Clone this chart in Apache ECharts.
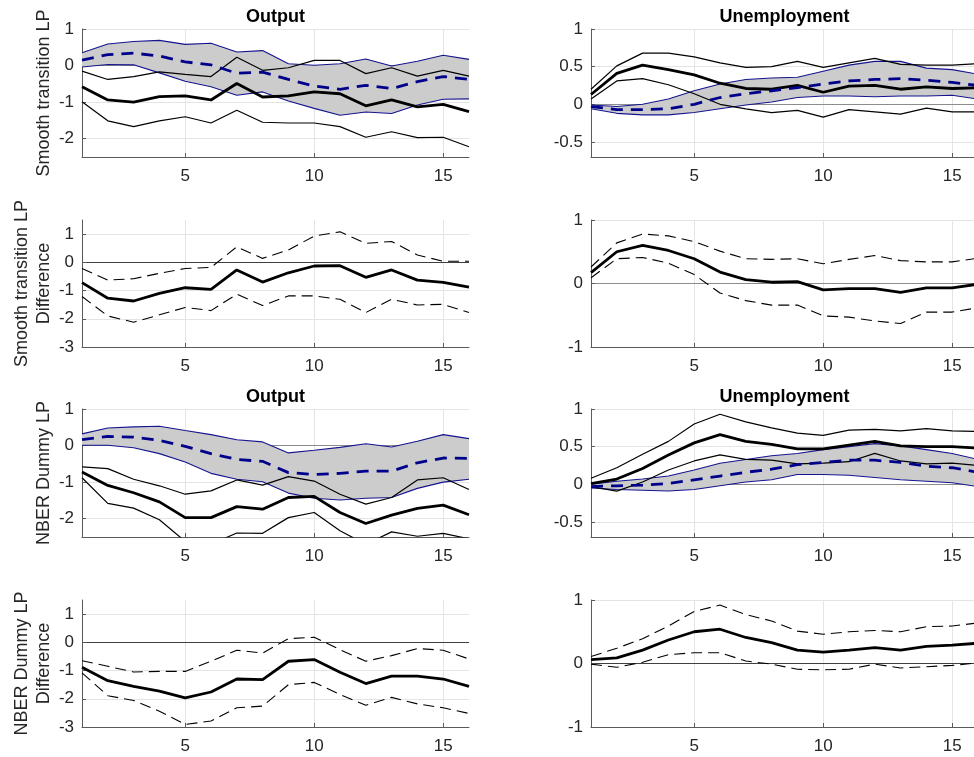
<!DOCTYPE html>
<html>
<head>
<meta charset="utf-8">
<script src="https://cdn.jsdelivr.net/npm/echarts@6/dist/echarts.min.js"></script>
<style>html,body{margin:0;padding:0;background:#fff;}#c{width:974px;height:757px;}</style>
</head>
<body>
<div id="c"></div>
<script>
// ---------------- DATA ----------------
const horizons = [1,2,3,4,5,6,7,8,9,10,11,12,13,14,15,16];
const xTicks = [5,10,15];
const titles = ['Output','Unemployment'];
const rowLabels = ['Smooth transition LP','Smooth transition LP\nDifference','NBER Dummy LP','NBER Dummy LP\nDifference'];

// Row 1 left: smooth transition LP, output
const st_out_linUp  = [0.35,0.59,0.66,0.69,0.58,0.61,0.37,0.41,0.05,0.01,0.05,0.18,-0.01,0.12,0.28,0.17];
const st_out_linLo  = [-0.04,0.03,0.02,-0.2,-0.43,-0.58,-0.81,-0.72,-0.97,-1.17,-1.36,-1.27,-1.31,-1.08,-0.92,-0.91];
const st_out_linMid = [0.15,0.3,0.34,0.26,0.1,0.02,-0.21,-0.18,-0.38,-0.56,-0.65,-0.54,-0.63,-0.44,-0.3,-0.38];
const st_out_recMid = [-0.58,-0.94,-1.0,-0.85,-0.83,-0.94,-0.49,-0.86,-0.83,-0.72,-0.77,-1.1,-0.94,-1.13,-1.06,-1.26];
const st_out_recUp  = [-0.15,-0.38,-0.3,-0.17,-0.24,-0.3,0.23,-0.13,-0.06,0.14,0.14,-0.22,-0.06,-0.29,-0.13,-0.29];
const st_out_recLo  = [-0.99,-1.51,-1.67,-1.51,-1.4,-1.57,-1.22,-1.55,-1.57,-1.57,-1.67,-1.96,-1.81,-1.97,-1.96,-2.22];

// Row 1 right: smooth transition LP, unemployment
const st_un_linUp  = [-0.01,-0.03,0.0,0.07,0.18,0.27,0.33,0.35,0.36,0.44,0.52,0.57,0.57,0.48,0.46,0.4];
const st_un_linLo  = [-0.06,-0.12,-0.14,-0.14,-0.11,-0.06,-0.01,0.03,0.09,0.11,0.11,0.1,0.11,0.11,0.12,0.07];
const st_un_linMid = [-0.03,-0.07,-0.07,-0.06,0.0,0.09,0.14,0.18,0.22,0.27,0.31,0.33,0.34,0.32,0.29,0.25];
const st_un_recMid = [0.13,0.41,0.52,0.46,0.39,0.28,0.21,0.2,0.25,0.16,0.24,0.25,0.2,0.23,0.21,0.22];
const st_un_recUp  = [0.2,0.51,0.68,0.68,0.63,0.55,0.49,0.5,0.57,0.49,0.55,0.61,0.53,0.52,0.52,0.54];
const st_un_recLo  = [0.07,0.31,0.34,0.26,0.14,0.0,-0.06,-0.11,-0.08,-0.17,-0.07,-0.1,-0.13,-0.05,-0.1,-0.1];

// Row 2: smooth transition LP, difference
const st_out_diffMid = [-0.72,-1.27,-1.37,-1.1,-0.9,-0.96,-0.27,-0.7,-0.37,-0.13,-0.12,-0.53,-0.27,-0.63,-0.71,-0.88];
const st_out_diffUp  = [-0.22,-0.63,-0.58,-0.39,-0.22,-0.18,0.55,0.14,0.44,0.93,1.08,0.67,0.74,0.26,0.04,0.04];
const st_out_diffLo  = [-1.21,-1.9,-2.12,-1.86,-1.6,-1.71,-1.13,-1.53,-1.19,-1.19,-1.31,-1.78,-1.31,-1.51,-1.49,-1.78];
const st_un_diffMid  = [0.17,0.5,0.6,0.52,0.39,0.18,0.06,0.02,0.03,-0.1,-0.08,-0.08,-0.14,-0.07,-0.07,-0.01];
const st_un_diffUp   = [0.26,0.64,0.78,0.75,0.66,0.51,0.39,0.38,0.39,0.31,0.38,0.44,0.36,0.34,0.34,0.4];
const st_un_diffLo   = [0.09,0.39,0.41,0.32,0.14,-0.15,-0.27,-0.34,-0.34,-0.51,-0.53,-0.59,-0.63,-0.45,-0.45,-0.38];

// Row 3 left: NBER dummy LP, output
const nb_out_linUp  = [0.32,0.48,0.51,0.53,0.41,0.3,0.16,0.1,-0.2,-0.13,-0.05,0.05,-0.04,0.12,0.3,0.19];
const nb_out_linLo  = [0.01,0.01,-0.06,-0.22,-0.45,-0.76,-0.92,-0.99,-1.3,-1.44,-1.49,-1.44,-1.42,-1.17,-1.0,-0.92];
const nb_out_linMid = [0.16,0.25,0.23,0.14,-0.02,-0.22,-0.38,-0.43,-0.74,-0.79,-0.76,-0.7,-0.7,-0.47,-0.34,-0.35];
const nb_out_recMid = [-0.72,-1.09,-1.29,-1.54,-1.97,-1.97,-1.67,-1.74,-1.42,-1.39,-1.83,-2.13,-1.9,-1.72,-1.63,-1.89];
const nb_out_recUp  = [-0.58,-0.63,-0.92,-1.1,-1.33,-1.24,-0.94,-1.08,-0.85,-0.97,-1.33,-1.6,-1.42,-0.94,-0.88,-1.2];
const nb_out_recLo  = [-0.88,-1.58,-1.71,-2.03,-2.62,-2.7,-2.39,-2.4,-1.97,-1.83,-2.33,-2.7,-2.36,-2.48,-2.4,-2.55];

// Row 3 right: NBER dummy LP, unemployment
const nb_un_linUp  = [0.0,0.04,0.07,0.11,0.19,0.28,0.33,0.38,0.41,0.46,0.5,0.54,0.51,0.46,0.41,0.33];
const nb_un_linLo  = [-0.05,-0.07,-0.08,-0.09,-0.07,-0.02,0.03,0.06,0.13,0.13,0.12,0.09,0.06,0.04,0.02,-0.03];
const nb_un_linMid = [-0.03,-0.02,-0.01,0.01,0.06,0.11,0.16,0.2,0.26,0.29,0.32,0.32,0.29,0.24,0.22,0.16];
const nb_un_recMid = [0.01,0.07,0.21,0.39,0.55,0.66,0.57,0.53,0.47,0.47,0.52,0.57,0.51,0.5,0.5,0.48];
const nb_un_recUp  = [0.08,0.22,0.4,0.57,0.8,0.93,0.83,0.75,0.68,0.65,0.72,0.73,0.71,0.74,0.71,0.7];
const nb_un_recLo  = [-0.03,-0.09,0.03,0.19,0.31,0.39,0.33,0.32,0.27,0.28,0.3,0.41,0.31,0.27,0.28,0.25];

// Row 4: NBER dummy LP, difference
const nb_out_diffMid = [-0.88,-1.36,-1.56,-1.73,-1.97,-1.76,-1.3,-1.32,-0.67,-0.61,-1.06,-1.46,-1.2,-1.2,-1.3,-1.56];
const nb_out_diffUp  = [-0.65,-0.85,-1.05,-1.03,-1.03,-0.67,-0.28,-0.38,0.13,0.18,-0.26,-0.67,-0.47,-0.22,-0.28,-0.59];
const nb_out_diffLo  = [-1.08,-1.89,-2.06,-2.44,-2.91,-2.79,-2.32,-2.26,-1.5,-1.42,-1.85,-2.23,-1.95,-2.18,-2.32,-2.52];
const nb_un_diffMid  = [0.06,0.09,0.21,0.37,0.5,0.54,0.41,0.33,0.21,0.18,0.21,0.25,0.21,0.27,0.29,0.32];
const nb_un_diffUp   = [0.11,0.24,0.39,0.59,0.82,0.92,0.77,0.67,0.51,0.46,0.5,0.52,0.5,0.58,0.59,0.64];
const nb_un_diffLo   = [-0.01,-0.06,0.02,0.14,0.17,0.17,0.04,-0.01,-0.09,-0.1,-0.09,-0.01,-0.07,-0.05,-0.03,0.01];

// y-axis ranges / tick labels
const yOutRange = [-2.5, 1],  yOutTicks = [-2,-1,0,1];
const yUnRange  = [-0.7, 1],  yUnTicks  = [-0.5,0,0.5,1];
const yOutDiffRange = [-3, 1.5], yOutDiffTicks = [-3,-2,-1,0,1];
const yUnDiffRange  = [-1, 1],   yUnDiffTicks  = [-1,0,1];

// ---------------- LAYOUT / STYLE ----------------
const FONT = '"Liberation Sans", Arial, Helvetica, sans-serif';
const colLeft = [82, 591];
const colWidth = 387;
const rowTop = [29, 220, 409, 600];
const rowHeight = [128, 127, 128, 127];
const NAVY = '#00008b';
const EDGE = '#14148f';

const panels = [
  {row:0,col:0,type:'lvl',range:yOutRange,ticks:yOutTicks,zero:'#8c8c8c',
   linUp:st_out_linUp,linLo:st_out_linLo,linMid:st_out_linMid,recMid:st_out_recMid,recUp:st_out_recUp,recLo:st_out_recLo},
  {row:0,col:1,type:'lvl',range:yUnRange,ticks:yUnTicks,zero:'#8c8c8c',
   linUp:st_un_linUp,linLo:st_un_linLo,linMid:st_un_linMid,recMid:st_un_recMid,recUp:st_un_recUp,recLo:st_un_recLo},
  {row:1,col:0,type:'diff',range:yOutDiffRange,ticks:yOutDiffTicks,zero:'#404040',
   mid:st_out_diffMid,up:st_out_diffUp,lo:st_out_diffLo},
  {row:1,col:1,type:'diff',range:yUnDiffRange,ticks:yUnDiffTicks,zero:'#8c8c8c',
   mid:st_un_diffMid,up:st_un_diffUp,lo:st_un_diffLo},
  {row:2,col:0,type:'lvl',range:yOutRange,ticks:yOutTicks,zero:'#8c8c8c',
   linUp:nb_out_linUp,linLo:nb_out_linLo,linMid:nb_out_linMid,recMid:nb_out_recMid,recUp:nb_out_recUp,recLo:nb_out_recLo},
  {row:2,col:1,type:'lvl',range:yUnRange,ticks:yUnTicks,zero:'#8c8c8c',
   linUp:nb_un_linUp,linLo:nb_un_linLo,linMid:nb_un_linMid,recMid:nb_un_recMid,recUp:nb_un_recUp,recLo:nb_un_recLo},
  {row:3,col:0,type:'diff',range:yOutDiffRange,ticks:yOutDiffTicks,zero:'#404040',
   mid:nb_out_diffMid,up:nb_out_diffUp,lo:nb_out_diffLo},
  {row:3,col:1,type:'diff',range:yUnDiffRange,ticks:yUnDiffTicks,zero:'#404040',
   mid:nb_un_diffMid,up:nb_un_diffUp,lo:nb_un_diffLo}
];

const pairs = arr => horizons.map((h, i) => [h, arr[i]]);

const grids = [], xAxes = [], yAxes = [], series = [], graphics = [];

panels.forEach((p, i) => {
  grids.push({left: colLeft[p.col], top: rowTop[p.row], width: colWidth, height: rowHeight[p.row],
              containLabel: false, outerBoundsMode: 'none'});
  xAxes.push({
    type: 'value', gridIndex: i, min: 1, max: 16,
    axisLine: {show: true, onZero: false, lineStyle: {color: '#5a5a5a', width: 1}},
    axisTick: {show: true, inside: true, length: 4, customValues: xTicks, lineStyle: {color: '#5a5a5a'}},
    axisLabel: {customValues: xTicks, fontSize: 17, color: '#262626', margin: 11, fontFamily: FONT},
    splitLine: {show: true, lineStyle: {color: '#e4e4e4', width: 1}}
  });
  yAxes.push({
    type: 'value', gridIndex: i, min: p.range[0], max: p.range[1],
    name: p.col === 0 ? rowLabels[p.row] : '',
    nameLocation: 'middle', nameRotate: 90, nameGap: 26,
    nameTextStyle: {fontSize: 18, color: '#262626', fontFamily: FONT, lineHeight: 22},
    axisLine: {show: true, onZero: false, lineStyle: {color: '#5a5a5a', width: 1}},
    axisTick: {show: true, inside: true, length: 4, customValues: p.ticks, lineStyle: {color: '#5a5a5a'}},
    axisLabel: {customValues: p.ticks, fontSize: 17, color: '#262626', margin: 8, fontFamily: FONT},
    splitLine: {show: true, lineStyle: {color: '#e4e4e4', width: 1}}
  });

  const base = {type: 'line', xAxisIndex: i, yAxisIndex: i, symbol: 'none', silent: true, animation: false};
  const zeroLine = {silent: true, symbol: 'none', label: {show: false}, animation: false, z: 0,
                    lineStyle: {color: p.zero, width: 1, type: 'solid'}, data: [{yAxis: 0}]};

  if (p.type === 'lvl') {
    const up = p.linUp, lo = p.linLo;
    // zero reference line, drawn beneath the band
    series.push({type: 'line', name: 'zero' + i, xAxisIndex: i, yAxisIndex: i, data: [], z: 0,
                 silent: true, animation: false, markLine: zeroLine});
    series.push({
      type: 'custom', name: 'band' + i, xAxisIndex: i, yAxisIndex: i, silent: true, animation: false, z: 2,
      data: horizons.map((h, k) => [h, up[k], lo[k]]),
      encode: {x: 0, y: [1, 2]},
      renderItem: function (params, api) {
        if (params.dataIndex !== 0) return null;
        const pts = [];
        horizons.forEach((h, k) => pts.push(api.coord([h, up[k]])));
        for (let k = horizons.length - 1; k >= 0; k--) pts.push(api.coord([horizons[k], lo[k]]));
        return {type: 'polygon', shape: {points: pts}, style: {fill: '#cccccc', stroke: null}};
      }
    });
    series.push(Object.assign({}, base, {name: 'linUp' + i, data: pairs(p.linUp), lineStyle: {color: EDGE, width: 1.1}, z: 3}));
    series.push(Object.assign({}, base, {name: 'linLo' + i, data: pairs(p.linLo), lineStyle: {color: EDGE, width: 1.1}, z: 3}));
    series.push(Object.assign({}, base, {name: 'recUp' + i, data: pairs(p.recUp), lineStyle: {color: '#000', width: 1.2}, z: 4}));
    series.push(Object.assign({}, base, {name: 'recLo' + i, data: pairs(p.recLo), lineStyle: {color: '#000', width: 1.2}, z: 4}));
    series.push(Object.assign({}, base, {name: 'recMid' + i, data: pairs(p.recMid), lineStyle: {color: '#000', width: 2.8}, z: 5}));
    series.push(Object.assign({}, base, {name: 'linMid' + i, data: pairs(p.linMid),
      lineStyle: {color: NAVY, width: 2.8, type: [12, 8]}, z: 6}));
  } else {
    series.push(Object.assign({}, base, {name: 'diffUp' + i, data: pairs(p.up),
      lineStyle: {color: '#000', width: 1.1, type: [11, 6]}, z: 4, markLine: zeroLine}));
    series.push(Object.assign({}, base, {name: 'diffLo' + i, data: pairs(p.lo),
      lineStyle: {color: '#000', width: 1.1, type: [11, 6]}, z: 4}));
    series.push(Object.assign({}, base, {name: 'diffMid' + i, data: pairs(p.mid),
      lineStyle: {color: '#000', width: 2.8}, z: 5}));
  }
});

// panel titles (rows 1 and 3)
[0, 2].forEach(r => {
  [0, 1].forEach(c => {
    graphics.push({type: 'text', x: colLeft[c] + colWidth / 2, y: rowTop[r] - 12,
      style: {text: titles[c], font: 'bold 18px ' + FONT, fill: '#000', textAlign: 'center', textVerticalAlign: 'middle'}});
  });
});

const chart = echarts.init(document.getElementById('c'), null, {renderer: 'canvas'});
chart.setOption({
  animation: false,
  backgroundColor: '#ffffff',
  grid: grids,
  xAxis: xAxes,
  yAxis: yAxes,
  series: series,
  graphic: graphics
});
</script>
</body>
</html>
